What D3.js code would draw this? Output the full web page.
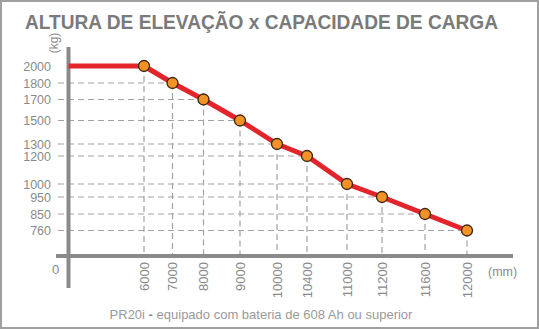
<!DOCTYPE html>
<html><head><meta charset="utf-8">
<script src="https://cdn.jsdelivr.net/npm/d3@7"></script>
<style>
html,body{margin:0;padding:0;background:#fff;}
svg{display:block;font-family:"Liberation Sans",Arial,Helvetica,sans-serif;}
</style></head>
<body><svg id="c" width="539" height="329"></svg>
<script>
// ---- data ----
const title = "ALTURA DE ELEVAÇÃO x CAPACIDADE DE CARGA";
const heights = [6000, 7000, 8000, 9000, 10000, 10400, 11000, 11200, 11600, 12000];
const capacities = [2000, 1800, 1700, 1500, 1300, 1200, 1000, 950, 850, 760];
const yTickLabels = [2000, 1800, 1700, 1500, 1300, 1200, 1000, 950, 850, 760];
const xTickLabels = heights.map(String);
const yUnit = "(kg)", xUnit = "(mm)";
const footerModel = "PR20i", footerText = "equipado com bateria de 608 Ah ou superior";

// ---- layout (the drawing's non-uniform axis spacing) ----
const xAxisX = 68.5, yAxisY = 256;
const xStops = [144, 172.5, 203.5, 240, 277, 307, 347, 382, 425, 467];
const yStops = [66, 83, 99.5, 120.5, 144, 156, 184, 197, 214, 230.5];

const svg = d3.select("#c");
const x = d3.scaleLinear().domain([0].concat(heights)).range([xAxisX].concat(xStops));
const y = d3.scaleLinear().domain(yTickLabels.slice().reverse()).range(yStops.slice().reverse());

// border
svg.append("rect").attr("x",1).attr("y",1).attr("width",537).attr("height",327)
  .attr("fill","none").attr("stroke","#a0a0a0").attr("stroke-width",2);

// title
svg.append("text").attr("x",261.5).attr("y",29).attr("text-anchor","middle")
  .attr("font-size",19.5).attr("font-weight","bold").attr("fill","#7a7a7a")
  .attr("textLength",473).attr("lengthAdjust","spacingAndGlyphs").text(title);

const grid = svg.append("g").attr("stroke","#a3a3a3").attr("stroke-width",1.2)
  .attr("stroke-dasharray","6,4").attr("fill","none");
// horizontal gridlines (from left of axis to point)
heights.forEach((h,i)=>{
  if (i>0) grid.append("line").attr("x1",58).attr("x2",x(h)).attr("y1",y(capacities[i])).attr("y2",y(capacities[i]));
});
// vertical gridlines (from point to x axis)
heights.forEach((h,i)=>{
  grid.append("line").attr("x1",x(h)).attr("x2",x(h)).attr("y1",y(capacities[i])).attr("y2",yAxisY);
});

// axes
svg.append("line").attr("x1",xAxisX).attr("x2",xAxisX).attr("y1",47).attr("y2",288)
  .attr("stroke","#8a8a8a").attr("stroke-width",4);
svg.append("line").attr("x1",56).attr("x2",513).attr("y1",yAxisY).attr("y2",yAxisY)
  .attr("stroke","#8a8a8a").attr("stroke-width",4);

// y tick labels
svg.append("g").selectAll("text").data(yTickLabels).join("text")
  .attr("x",51).attr("y",d=>y(d)).attr("dy","0.36em").attr("text-anchor","end")
  .attr("font-size",12.5).attr("fill","#8a8a8a").text(d=>d);
svg.append("text").attr("x",55.5).attr("y",269).attr("dy","0.36em").attr("text-anchor","middle")
  .attr("font-size",13).attr("fill","#8a8a8a").text("0");
svg.append("text").attr("transform","translate(58,43) rotate(-90)").attr("text-anchor","middle")
  .attr("font-size",12).attr("fill","#8a8a8a").text(yUnit);

// x tick labels
svg.append("g").selectAll("text").data(heights).join("text")
  .attr("transform",(d)=>`translate(${x(d)+4.5},262) rotate(-90)`).attr("text-anchor","end")
  .attr("font-size",13).attr("fill","#8a8a8a").text((d,i)=>xTickLabels[i]);
svg.append("text").attr("x",488).attr("y",276).attr("font-size",12.5).attr("fill","#8a8a8a").text(xUnit);

// line
const pts = [[0, capacities[0]]].concat(heights.map((h,i)=>[h,capacities[i]]));
svg.append("path").datum(pts)
  .attr("d", d3.line().x(d=>x(d[0])).y(d=>y(d[1])))
  .attr("fill","none").attr("stroke","#e3242b").attr("stroke-width",5).attr("stroke-linejoin","round");
svg.append("g").selectAll("circle").data(heights).join("circle")
  .attr("cx",d=>x(d)).attr("cy",(d,i)=>y(capacities[i])).attr("r",5.5)
  .attr("fill","#f39325").attr("stroke","#3b2410").attr("stroke-width",1.3);

// footer
const ft = svg.append("text").attr("x",261).attr("y",319).attr("text-anchor","middle")
  .attr("font-size",13).attr("fill","#9a9a9a");
ft.append("tspan").text(footerModel + " ");
ft.append("tspan").attr("font-weight","bold").attr("fill","#888").text("-");
ft.append("tspan").text(" " + footerText);
</script></body></html>
